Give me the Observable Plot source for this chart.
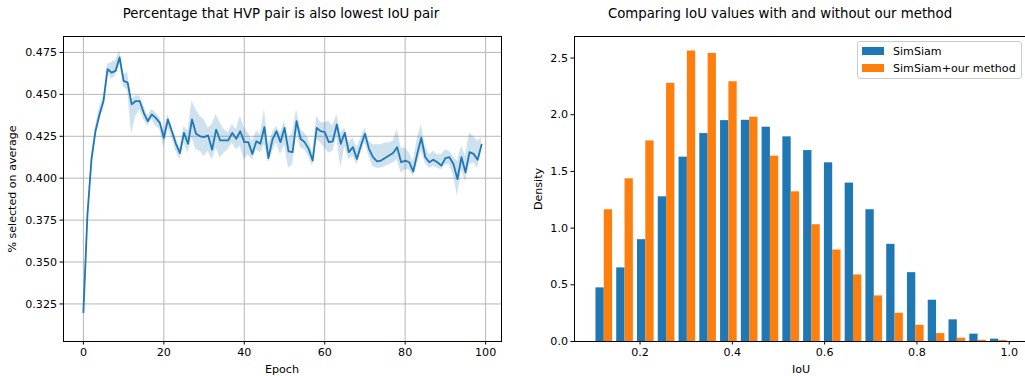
<!DOCTYPE html>
<html>
<head>
<meta charset="utf-8">
<script src="https://cdn.jsdelivr.net/npm/d3@7"></script>
<script src="https://cdn.jsdelivr.net/npm/@observablehq/plot@0.6"></script>
<style>
  html, body { margin: 0; padding: 0; background: #fff; overflow: hidden; }
  #root { position: relative; width: 1025px; height: 376px; overflow: hidden; font-family: "DejaVu Sans", sans-serif; color: #000; }
  .abs { position: absolute; white-space: nowrap; }
  .title { font-size: 13.3px; transform: translate(-50%, -50%); }
  .lab { font-size: 11.1px; transform: translate(-50%, -50%); }
  .ylab { font-size: 11.1px; transform: translate(-50%, -50%) rotate(-90deg); }
  .legend { border: 1px solid #cccccc; border-radius: 3px; background: rgba(255,255,255,0.8); box-sizing: border-box; }
  .sw { position: absolute; width: 22px; height: 8px; }
  .lt { position: absolute; font-size: 11.1px; transform: translateY(-50%); }
</style>
</head>
<body>
<div id="root"></div>
<script>
// ---------------- data ----------------
// Left chart: % selected on average per epoch (mean, lower band, upper band)
const epochMean = [0.320,0.378,0.411,0.428,0.438,0.446,0.465,0.463,0.464,0.472,
0.458,0.457,0.444,0.446,0.446,0.439,0.434,0.438,0.436,0.433,
0.424,0.435,0.428,0.4205,0.415,0.427,0.4205,0.435,0.4265,0.425,
0.4245,0.4255,0.417,0.429,0.4225,0.4225,0.4225,0.427,0.4235,0.428,
0.4215,0.4215,0.4145,0.422,0.4205,0.4305,0.412,0.423,0.428,0.4215,
0.430,0.416,0.4155,0.434,0.4235,0.4215,0.4175,0.4105,0.430,0.428,
0.4275,0.4215,0.422,0.432,0.4205,0.427,0.4155,0.4185,0.4115,0.4195,
0.4265,0.4175,0.4125,0.410,0.4105,0.412,0.4135,0.415,0.4185,0.4095,
0.4105,0.4095,0.404,0.4145,0.424,0.4125,0.4095,0.411,0.4095,0.4075,
0.412,0.4125,0.4085,0.3995,0.4125,0.4035,0.4155,0.4145,0.411,0.420];
const epochLow = [0.318,0.376,0.408,0.424,0.434,0.442,0.463,0.459,0.461,0.468,
0.455,0.452,0.426,0.437,0.441,0.435,0.431,0.435,0.431,0.429,
0.418,0.430,0.424,0.416,0.411,0.421,0.415,0.424,0.417,0.416,
0.413,0.416,0.411,0.418,0.412,0.415,0.417,0.421,0.417,0.419,
0.411,0.414,0.411,0.417,0.415,0.420,0.409,0.416,0.421,0.414,
0.420,0.406,0.408,0.427,0.418,0.417,0.413,0.407,0.423,0.421,
0.418,0.415,0.416,0.425,0.406,0.419,0.411,0.413,0.408,0.415,
0.421,0.413,0.407,0.406,0.406,0.407,0.408,0.409,0.411,0.403,
0.405,0.405,0.401,0.408,0.416,0.409,0.406,0.407,0.406,0.405,
0.408,0.408,0.402,0.389,0.405,0.398,0.408,0.409,0.406,0.416];
const epochHigh = [0.321,0.380,0.414,0.431,0.442,0.449,0.468,0.469,0.470,0.476,
0.462,0.463,0.447,0.449,0.449,0.443,0.437,0.441,0.439,0.436,
0.428,0.438,0.431,0.424,0.418,0.431,0.428,0.446,0.441,0.437,
0.435,0.430,0.432,0.438,0.433,0.429,0.427,0.432,0.429,0.437,
0.430,0.427,0.422,0.428,0.426,0.441,0.420,0.427,0.431,0.427,
0.434,0.424,0.427,0.441,0.429,0.427,0.423,0.415,0.437,0.433,
0.433,0.434,0.431,0.438,0.427,0.430,0.421,0.424,0.418,0.424,
0.430,0.422,0.420,0.420,0.420,0.421,0.421,0.422,0.429,0.418,
0.418,0.415,0.410,0.423,0.432,0.419,0.414,0.416,0.414,0.414,
0.417,0.416,0.413,0.410,0.419,0.413,0.427,0.425,0.422,0.424];
const leftXTicks = [0, 20, 40, 60, 80, 100];
const leftYTicks = [0.325, 0.350, 0.375, 0.400, 0.425, 0.450, 0.475];

// Right chart: histogram of IoU (density), 20 bins 0.1..1.0
const binEdges = [0.1,0.145,0.19,0.235,0.28,0.325,0.37,0.415,0.46,0.505,0.55,0.595,0.64,0.685,0.73,0.775,0.82,0.865,0.91,0.955,1.0];
const seriesNames = ["SimSiam", "SimSiam+our method"];
const simsiamDensity = [0.473,0.649,0.898,1.276,1.626,1.834,1.948,1.951,1.890,1.805,1.684,1.576,1.397,1.162,0.857,0.607,0.364,0.191,0.065,0.021];
const oursDensity = [1.162,1.435,1.769,2.277,2.562,2.541,2.291,1.978,1.635,1.320,1.030,0.807,0.587,0.402,0.249,0.143,0.070,0.029,0.011,0.009];
const rightXTicks = [0.2, 0.4, 0.6, 0.8, 1.0];
const rightYTicks = [0.0, 0.5, 1.0, 1.5, 2.0, 2.5];

const colors = ["#1f77b4", "#ff7f0e"];

// ---------------- build ----------------
const root = document.getElementById("root");
const font = {fontFamily: "DejaVu Sans", fontSize: "11.1px", color: "black", background: "transparent", overflow: "visible"};

const lineRows = epochMean.map((v, i) => ({epoch: i, v, lo: epochLow[i], hi: epochHigh[i]}));

const left = Plot.plot({
  width: 512, height: 376,
  marginLeft: 63, marginRight: 11, marginTop: 36, marginBottom: 35,
  style: font,
  x: {domain: [-4.95, 103.95], label: null},
  y: {domain: [0.3026, 0.4845], label: null},
  marks: [
    Plot.gridX(leftXTicks, {stroke: "#b0b0b0", strokeOpacity: 1, strokeWidth: 0.9}),
    Plot.gridY(leftYTicks, {stroke: "#b0b0b0", strokeOpacity: 1, strokeWidth: 0.9}),
    Plot.areaY(lineRows, {x: "epoch", y1: "lo", y2: "hi", fill: colors[0], fillOpacity: 0.22}),
    Plot.lineY(lineRows, {x: "epoch", y: "v", stroke: colors[0], strokeWidth: 1.8}),
    Plot.frame({stroke: "#000", strokeWidth: 1}),
    Plot.axisX({ticks: leftXTicks, tickSize: 3.5, tickPadding: 3, label: null, tickFormat: d3.format("d")}),
    Plot.axisY({ticks: leftYTicks, tickSize: 3.5, tickPadding: 3, label: null, tickFormat: d3.format(".3f")})
  ]
});
left.style.position = "absolute"; left.style.left = "0px"; left.style.top = "0px";
root.appendChild(left);

const barRows = [];
simsiamDensity.forEach((d, i) => {
  const w = binEdges[i + 1] - binEdges[i];
  barRows.push({series: seriesNames[0], x1: binEdges[i] + 0.1 * w, x2: binEdges[i] + 0.5 * w, density: d});
});
oursDensity.forEach((d, i) => {
  const w = binEdges[i + 1] - binEdges[i];
  barRows.push({series: seriesNames[1], x1: binEdges[i] + 0.5 * w, x2: binEdges[i] + 0.9 * w, density: d});
});

const right = Plot.plot({
  width: 520, height: 376,
  marginLeft: 62, marginRight: 2.5, marginTop: 36, marginBottom: 35,
  style: font,
  x: {domain: [0.058, 1.045], label: null},
  y: {domain: [0, 2.69], label: null},
  color: {domain: seriesNames, range: colors},
  marks: [
    Plot.rectY(barRows, {x1: "x1", x2: "x2", y: "density", fill: "series", inset: 0}),
    Plot.frame({stroke: "#000", strokeWidth: 1}),
    Plot.axisX({ticks: rightXTicks, tickSize: 3.5, tickPadding: 3, label: null, tickFormat: d3.format(".1f")}),
    Plot.axisY({ticks: rightYTicks, tickSize: 3.5, tickPadding: 3, label: null, tickFormat: d3.format(".1f")})
  ]
});
right.style.position = "absolute"; right.style.left = "512px"; right.style.top = "0px";
root.appendChild(right);

function addDiv(cls, text, x, y) {
  const d = document.createElement("div");
  d.className = "abs " + cls;
  d.textContent = text;
  d.style.left = x + "px"; d.style.top = y + "px";
  root.appendChild(d);
  return d;
}
addDiv("title", "Percentage that HVP pair is also lowest IoU pair", 281, 13);
addDiv("title", "Comparing IoU values with and without our method", 780, 13);
addDiv("lab", "Epoch", 282, 369);
addDiv("lab", "IoU", 801, 369);
addDiv("ylab", "% selected on average", 12, 189);
addDiv("ylab", "Density", 538, 189);

// legend
const lg = document.createElement("div");
lg.className = "abs legend";
Object.assign(lg.style, {left: "857px", top: "41px", width: "165px", height: "38px"});
root.appendChild(lg);
seriesNames.forEach((name, i) => {
  const sw = document.createElement("div");
  sw.className = "sw";
  sw.style.background = colors[i];
  sw.style.left = "4px";
  sw.style.top = (5 + i * 16.6) + "px";
  lg.appendChild(sw);
  const t = document.createElement("div");
  t.className = "lt";
  t.textContent = name;
  t.style.left = "35px";
  t.style.top = (9 + i * 16.6) + "px";
  lg.appendChild(t);
});
</script>
</body>
</html>
